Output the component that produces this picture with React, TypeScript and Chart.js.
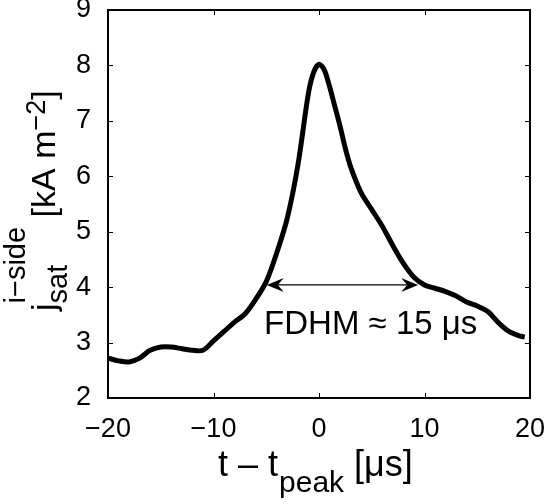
import { useEffect, useRef } from "react";
import { Chart, registerables } from "chart.js";

Chart.register(...registerables);

// time relative to peak [μs]
const timeUs = [
  -20, -19, -18, -17, -16, -15, -14, -13, -12, -11, -10, -9, -8, -7, -6, -5, -4, -3, -2, -1, -0.5, 0,
  0.5, 1, 1.5, 2, 2.5, 3, 4, 5, 6, 7, 8, 9, 10, 11, 12, 13, 14, 15, 16, 17, 18, 19, 19.5,
];
// ion-side saturation current density [kA m^-2]
const jsatValues = [
  2.72, 2.67, 2.65, 2.72, 2.86, 2.92, 2.92, 2.89, 2.86, 2.86, 3.03, 3.2, 3.37, 3.52, 3.78, 4.1, 4.62, 5.25,
  6.2, 7.5, 7.88, 8.02, 7.92, 7.62, 7.26, 6.9, 6.5, 6.17, 5.7, 5.4, 5.1, 4.75, 4.43, 4.18, 4.04, 3.98,
  3.92, 3.84, 3.73, 3.66, 3.56, 3.36, 3.2, 3.12, 3.1,
];

const xTicks = [-20, -10, 0, 10, 20];
const yTicks = [2, 3, 4, 5, 6, 7, 8, 9];

const arrowT = [-4.95, 9.4];
const arrowJ = [4.04, 4.04];
const annotationText = "FDHM ≈ 15 μs";
const annotationT = 4.9;
const annotationJ = 3.32;

const FONT = '"Liberation Sans", Arial, Helvetica, sans-serif';

function drawArrowHead(ctx: CanvasRenderingContext2D, x: number, y: number, dir: number) {
  const L = 17;
  const W = 7;
  const N = 11;
  ctx.beginPath();
  ctx.moveTo(x, y);
  ctx.lineTo(x - dir * L, y - W);
  ctx.lineTo(x - dir * N, y);
  ctx.lineTo(x - dir * L, y + W);
  ctx.closePath();
  ctx.fill();
}

const notesPlugin = {
  id: "dbg",
  afterDraw(chart: any) {
    const ctx: CanvasRenderingContext2D = chart.ctx;
    const xs = chart.scales.x;
    const ys = chart.scales.y;
    const L0 = Math.round(xs.getPixelForValue(xTicks[0]));
    const R0 = Math.round(xs.getPixelForValue(xTicks[xTicks.length - 1]));
    const T0 = Math.round(ys.getPixelForValue(yTicks[yTicks.length - 1]));
    const B0 = Math.round(ys.getPixelForValue(yTicks[0]));
    ctx.save();
    ctx.fillStyle = "#000";
    // frame
    ctx.fillRect(L0 - 1, T0 - 1, R0 - L0 + 2, 2);
    ctx.fillRect(L0 - 1, B0 - 1, R0 - L0 + 2, 2);
    ctx.fillRect(L0 - 1, T0 - 1, 2, B0 - T0 + 2);
    ctx.fillRect(R0 - 1, T0 - 1, 2, B0 - T0 + 2);
    // inward ticks
    const tl = 5;
    xTicks.forEach((t) => {
      const px = Math.round(xs.getPixelForValue(t));
      ctx.fillRect(px, B0 - tl, 1, tl);
      ctx.fillRect(px, T0, 1, tl);
    });
    yTicks.forEach((v) => {
      const py = Math.round(ys.getPixelForValue(v));
      ctx.fillRect(L0, py, tl, 1);
      ctx.fillRect(R0 - tl, py, tl, 1);
    });

    ctx.strokeStyle = "#000";
    // double arrow
    const ax0 = xs.getPixelForValue(arrowT[0]);
    const ax1 = xs.getPixelForValue(arrowT[1]);
    const ay0 = ys.getPixelForValue(arrowJ[0]);
    const ay1 = ys.getPixelForValue(arrowJ[1]);
    ctx.lineWidth = 1.2;
    ctx.beginPath();
    ctx.moveTo(ax0 + 8, ay0);
    ctx.lineTo(ax1 - 8, ay1);
    ctx.stroke();
    drawArrowHead(ctx, ax0, ay0, -1);
    drawArrowHead(ctx, ax1, ay1, 1);

    // annotation
    ctx.font = `33px ${FONT}`;
    ctx.textAlign = "center";
    ctx.textBaseline = "middle";
    ctx.fillText(annotationText, xs.getPixelForValue(annotationT), ys.getPixelForValue(annotationJ));

    // x-axis title: t – t_peak [μs]
    ctx.textAlign = "left";
    ctx.textBaseline = "alphabetic";
    let x = 218;
    const xb = 476;
    ctx.font = `36px ${FONT}`;
    ctx.fillText("t – t", x, xb);
    x += ctx.measureText("t – t").width;
    ctx.font = `30px ${FONT}`;
    ctx.fillText("peak", x + 1, xb + 16);
    x += ctx.measureText("peak").width + 1;
    ctx.font = `36px ${FONT}`;
    ctx.fillText(" [μs]", x, xb);

    // y-axis title: j_sat^{i–side} [kA m^{–2}]
    ctx.translate(55, 311);
    ctx.rotate(-Math.PI / 2);
    let p = 0;
    ctx.font = `34px ${FONT}`;
    ctx.fillText("j", p, 0);
    p += ctx.measureText("j").width;
    ctx.font = `29px ${FONT}`;
    ctx.fillText("sat", p, 12);
    const wSub = ctx.measureText("sat").width;
    ctx.fillText("i−side", p, -30);
    const wSup = ctx.measureText("i−side").width;
    p += Math.max(wSub, wSup);
    ctx.font = `34px ${FONT}`;
    ctx.fillText(" [kA m", p, 0);
    p += ctx.measureText(" [kA m").width;
    ctx.font = `27px ${FONT}`;
    ctx.fillText("−2", p, -10);
    p += ctx.measureText("−2").width;
    ctx.font = `34px ${FONT}`;
    ctx.fillText("]", p, 0);

    ctx.restore();
  },
};

export default function App() {
  const canvasRef = useRef<HTMLCanvasElement | null>(null);

  useEffect(() => {
    document.body.style.margin = "0";
    const canvas = canvasRef.current;
    if (!canvas) return;
    const chart = new Chart(canvas, {
      type: "line",
      data: {
        datasets: [
          {
            data: timeUs.map((t, i) => ({ x: t, y: jsatValues[i] })),
            borderColor: "#000",
            borderWidth: 5,
            pointRadius: 0,
            tension: 0.3,
          },
        ],
      },
      options: {
        animation: false,
        responsive: false,
        devicePixelRatio: 1,
        layout: { padding: { top: 10, right: 17, left: 0, bottom: 0 } },
        plugins: { legend: { display: false }, tooltip: { enabled: false } },
        scales: {
          x: {
            type: "linear",
            min: -20,
            max: 20,
            grid: { display: false },
            border: { display: true, color: "#000", width: 2 },
            ticks: {
              stepSize: 10,
              color: "#000",
              padding: 7,
              font: { size: 27, family: FONT },
              callback: (v: any) => String(v).replace("-", "−"),
            },
            afterFit: (s: any) => {
              s.height = 106;
              s.paddingLeft = 0;
              s.paddingRight = 0;
            },
          },
          y: {
            min: 2,
            max: 9,
            grid: { display: false },
            border: { display: true, color: "#000", width: 2 },
            ticks: {
              stepSize: 1,
              color: "#000",
              padding: 9,
              font: { size: 27, family: FONT },
            },
            afterFit: (s: any) => {
              s.width = 108;
              s.paddingTop = 0;
              s.paddingBottom = 0;
            },
          },
        },
      },
      plugins: [notesPlugin],
    });
    return () => chart.destroy();
  }, []);

  return <canvas ref={canvasRef} width={547} height={504} style={{ display: "block" }} />;
}
